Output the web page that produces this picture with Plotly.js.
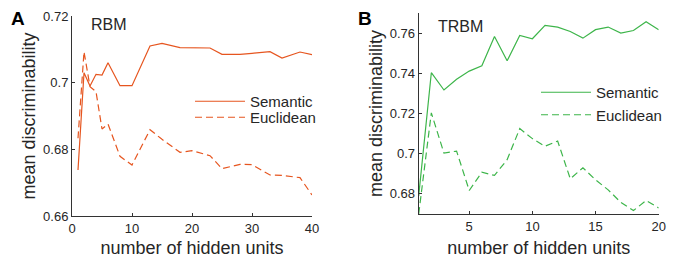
<!DOCTYPE html>
<html>
<head>
<meta charset="utf-8">
<script src="https://cdn.plot.ly/plotly-3.0.1.min.js"></script>
<style>html,body{margin:0;padding:0;background:#fff;}#chart{width:678px;height:258px;}</style>
</head>
<body>
<div id="chart"></div>
<script>
// Panel A: RBM
const rbmUnits = [1,2,3,4,5,6,8,10,13,15,18,20,23,25,28,30,33,35,38,40];
const rbmSemantic = [0.6738,0.703,0.699,0.7025,0.7023,0.706,0.6991,0.6991,0.711,0.7118,0.7105,0.7104,0.7104,0.7085,0.7085,0.7088,0.7093,0.7074,0.7092,0.7084];
const rbmEuclidean = [0.6833,0.7093,0.6988,0.6973,0.6861,0.6876,0.6779,0.6753,0.6859,0.683,0.6791,0.6796,0.6781,0.6742,0.6755,0.6754,0.6723,0.6722,0.6715,0.6663];
// Panel B: TRBM
const trbmUnits = [1,2,3,4,5,6,7,8,9,10,11,12,13,14,15,16,17,18,19,20];
const trbmSemantic = [0.679,0.7403,0.7317,0.737,0.7411,0.7437,0.7583,0.7462,0.7588,0.7572,0.7638,0.763,0.7608,0.7575,0.7617,0.763,0.760,0.7613,0.7657,0.7617];
const trbmEuclidean = [0.670,0.7203,0.7003,0.7013,0.6817,0.6908,0.6892,0.697,0.7125,0.7075,0.7037,0.7063,0.6875,0.693,0.687,0.682,0.6758,0.6717,0.6767,0.673];
const seriesNames = ["Semantic", "Euclidean"];
const panelTitles = ["RBM", "TRBM"];
const panelLetters = ["A", "B"];
const xTitle = "number of hidden units";
const yTitle = "mean discriminability";

const orange = "#e6551f";
const green = "#3db54a";
const txt = "#262626";
const FONT = "Liberation Sans, Arial, sans-serif";

const traces = [
  {x: rbmUnits, y: rbmSemantic, name: seriesNames[0], mode: "lines", line: {color: orange, width: 1.2}, xaxis: "x", yaxis: "y", legend: "legend"},
  {x: rbmUnits, y: rbmEuclidean, name: seriesNames[1], mode: "lines", line: {color: orange, width: 1.2, dash: "7px,4px"}, xaxis: "x", yaxis: "y", legend: "legend"},
  {x: trbmUnits, y: trbmSemantic, name: seriesNames[0], mode: "lines", line: {color: green, width: 1.2}, xaxis: "x2", yaxis: "y2", legend: "legend2"},
  {x: trbmUnits, y: trbmEuclidean, name: seriesNames[1], mode: "lines", line: {color: green, width: 1.2, dash: "7px,4px"}, xaxis: "x2", yaxis: "y2", legend: "legend2"}
];

const titleFont = {family: FONT, size: 18, color: txt};
const axBase = {
  showline: true, linecolor: "#333", linewidth: 1, mirror: false,
  ticks: "inside", ticklen: 3, tickcolor: "#333", tickwidth: 1,
  showgrid: false, zeroline: false, automargin: false,
  tickfont: {family: FONT, size: 13, color: txt}
};

const layout = {
  width: 678, height: 258,
  margin: {l: 0, r: 0, t: 0, b: 0},
  paper_bgcolor: "#fff", plot_bgcolor: "#fff",
  font: {family: FONT, color: txt},
  xaxis: Object.assign({}, axBase, {domain: [72/678, 312/678], range: [0, 40], tickvals: [0,10,20,30,40], anchor: "y", title: {text: xTitle, standoff: 15, font: titleFont}}),
  yaxis: Object.assign({}, axBase, {domain: [42/258, 242/258], range: [0.66, 0.72], tickvals: [0.66,0.68,0.7,0.72], anchor: "x", title: {text: yTitle, standoff: 2, font: titleFont}}),
  xaxis2: Object.assign({}, axBase, {domain: [418.7/678, 658.7/678], range: [1, 20], tickvals: [5,10,15,20], anchor: "y2", title: {text: xTitle, standoff: 15, font: titleFont}}),
  yaxis2: Object.assign({}, axBase, {domain: [44/258, 245/258], range: [0.67, 0.77], tickvals: [0.68,0.7,0.72,0.74,0.76], anchor: "x2", title: {text: yTitle, standoff: 2, font: titleFont}}),
  legend: {x: 190/678, y: 1 - 85/258, xanchor: "left", yanchor: "top", bgcolor: "rgba(0,0,0,0)", font: {family: FONT, size: 15, color: txt}, itemwidth: 50, tracegroupgap: 0},
  legend2: {x: 536/678, y: 1 - 76/258, xanchor: "left", yanchor: "top", bgcolor: "rgba(0,0,0,0)", font: {family: FONT, size: 15, color: txt}, itemwidth: 50, tracegroupgap: 0},
  showlegend: true,
  annotations: [
    {text: panelLetters[0], x: 18/678, y: 1 - 18/258, xref: "paper", yref: "paper", showarrow: false, font: {family: FONT, size: 19, color: "#000", weight: "bold"}, xanchor: "center", yanchor: "middle"},
    {text: panelLetters[1], x: 365/678, y: 1 - 18/258, xref: "paper", yref: "paper", showarrow: false, font: {family: FONT, size: 19, color: "#000", weight: "bold"}, xanchor: "center", yanchor: "middle"},
    {text: panelTitles[0], x: 89/678, y: 1 - 25/258, xref: "paper", yref: "paper", showarrow: false, font: {family: FONT, size: 16, color: txt}, xanchor: "left", yanchor: "middle"},
    {text: panelTitles[1], x: 436/678, y: 1 - 27/258, xref: "paper", yref: "paper", showarrow: false, font: {family: FONT, size: 16, color: txt}, xanchor: "left", yanchor: "middle"}
  ]
};

Plotly.newPlot("chart", traces, layout, {displayModeBar: false, staticPlot: true}).then(function (gd) {
  // tighten vertical spacing between legend entries to match reference (~16px)
  gd.querySelectorAll("g.legend").forEach(function (lg) {
    const items = lg.querySelectorAll("g.traces");
    if (items.length < 2) return;
    const m = /translate\(([-\d.]+),\s*([-\d.]+)\)/.exec(items[0].getAttribute("transform") || "");
    if (!m) return;
    const x0 = parseFloat(m[1]), y0 = parseFloat(m[2]);
    items.forEach(function (it, i) {
      it.setAttribute("transform", "translate(" + x0 + "," + (y0 + i * 16) + ")");
    });
  });
});
</script>
</body>
</html>
